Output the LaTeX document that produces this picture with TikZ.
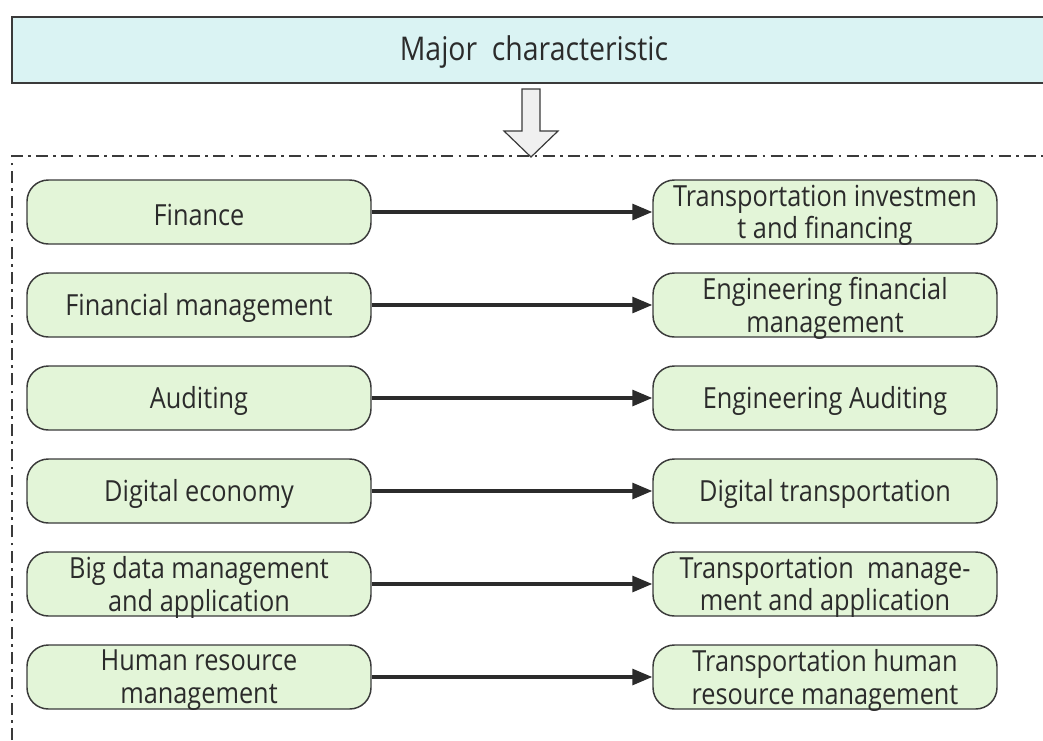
\documentclass[tikz,border=0pt]{standalone}
\usepackage{fontspec}
\setmainfont{Open Sans}[FakeStretch=0.87]
\usetikzlibrary{arrows.meta}
\definecolor{topfill}{HTML}{DAF3F3}
\definecolor{nodefill}{HTML}{E3F5D8}
\definecolor{edge}{HTML}{3A3A3A}
\definecolor{arrowfill}{HTML}{F0F0F0}
\definecolor{ink}{HTML}{2B2B2B}
\tikzset{
  itemtext/.style={align=center, inner sep=0pt, yshift=-2.4pt,
    font=\fontsize{21.8pt}{24.5pt}\selectfont, text=ink},
  item/.style={draw=edge, fill=nodefill, line width=1.1pt, rounded corners=16pt,
    minimum width=258pt, minimum height=48pt, inner sep=2pt,
    label={[itemtext]center:#1}},
  link/.style={draw=ink, line width=2.3pt, -{Triangle[length=15pt,width=12pt]}},
  frame/.style={draw=edge, line width=0.9pt, dash pattern=on 9pt off 4pt on 2pt off 4pt}
}
\begin{document}
\begin{tikzpicture}[x=0.75pt,y=-0.75pt]
\useasboundingbox (0,0) rectangle (1043,740);
\begin{scope}
\clip (0,0) rectangle (1043,740);
\draw[edge, fill=topfill, line width=1pt] (12,17) rectangle (1060,83);
\draw[frame] (12,740) -- (12,156) -- (1043,156);
\end{scope}
\node[font=\fontsize{24.5pt}{28pt}\selectfont, text=ink] (title) at (534,52.5) {Major~ characteristic};
\draw[draw=edge, fill=arrowfill, line width=0.9pt, line join=miter]
  (522,89) -- (540,89) -- (540,131) -- (558,131) -- (531,157) -- (504,131) -- (522,131) -- cycle;
\node[item={Finance}] (l1) at (199,212) {};
\node[item={Financial management}] (l2) at (199,305) {};
\node[item={Auditing}] (l3) at (199,398) {};
\node[item={Digital economy}] (l4) at (199,491) {};
\node[item={Big data management\\and application}] (l5) at (199,584) {};
\node[item={Human resource\\management}] (l6) at (199,677) {};
\node[item={Transportation investmen\\t and financing}] (r1) at (825,212) {};
\node[item={Engineering financial\\management}] (r2) at (825,305) {};
\node[item={Engineering Auditing}] (r3) at (825,398) {};
\node[item={Digital transportation}] (r4) at (825,491) {};
\node[item={Transportation~ manage-\\ment and application}] (r5) at (825,584) {};
\node[item={Transportation human\\resource management}] (r6) at (825,677) {};
\foreach \i in {1,...,6} \draw[link] (l\i) -- (r\i);
\end{tikzpicture}
\end{document}
